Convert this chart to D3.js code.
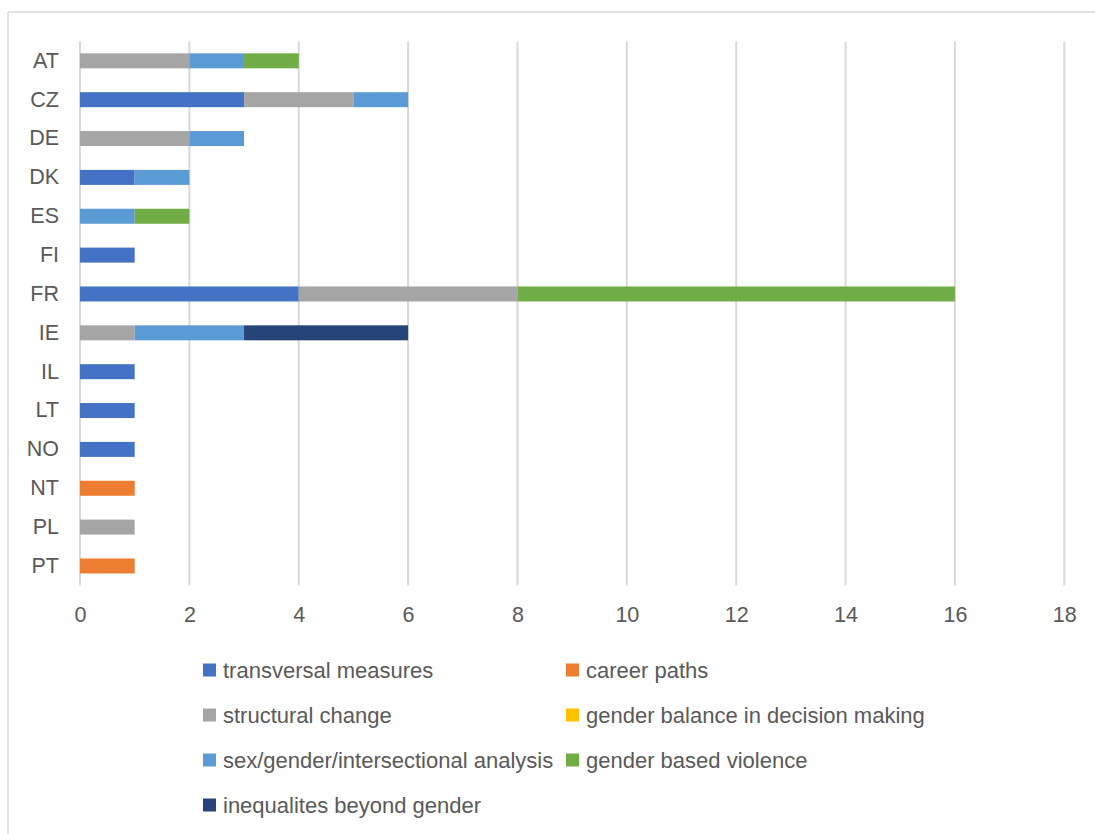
<!DOCTYPE html>
<html>
<head>
<meta charset="utf-8">
<script src="https://cdn.jsdelivr.net/npm/d3@7"></script>
<style>
  html, body { margin: 0; padding: 0; background: #fff; }
  svg { display: block; }
  text { font-family: "Liberation Sans", Arial, sans-serif; fill: #595959; }
</style>
</head>
<body>
<svg id="chart" width="1095" height="834"></svg>
<script>
const countries = ["AT","CZ","DE","DK","ES","FI","FR","IE","IL","LT","NO","NT","PL","PT"];
const seriesNames = [
  "transversal measures",
  "career paths",
  "structural change",
  "gender balance in decision making",
  "sex/gender/intersectional analysis",
  "gender based violence",
  "inequalites beyond gender"
];
const seriesColors = ["#4472C4","#ED7D31","#A5A5A5","#FFC000","#5B9BD5","#70AD47","#264478"];
//                          AT CZ DE DK ES FI FR IE IL LT NO NT PL PT
const transversal       = [0, 3, 0, 1, 0, 1, 4, 0, 1, 1, 1, 0, 0, 0];
const careerPaths       = [0, 0, 0, 0, 0, 0, 0, 0, 0, 0, 0, 1, 0, 1];
const structuralChange  = [2, 2, 2, 0, 0, 0, 4, 1, 0, 0, 0, 0, 1, 0];
const genderBalance     = [0, 0, 0, 0, 0, 0, 0, 0, 0, 0, 0, 0, 0, 0];
const sexGenderAnalysis = [1, 1, 1, 1, 1, 0, 0, 2, 0, 0, 0, 0, 0, 0];
const genderViolence    = [1, 0, 0, 0, 1, 0, 8, 0, 0, 0, 0, 0, 0, 0];
const inequalities      = [0, 0, 0, 0, 0, 0, 0, 3, 0, 0, 0, 0, 0, 0];
const xTicks = [0,2,4,6,8,10,12,14,16,18];

const seriesValues = [transversal, careerPaths, structuralChange, genderBalance,
                      sexGenderAnalysis, genderViolence, inequalities];

const rows = countries.map((c, i) => {
  const r = { country: c };
  seriesNames.forEach((s, k) => { r[s] = seriesValues[k][i]; });
  return r;
});

const svg = d3.select("#chart");

// outer chart border (top and left visible)
svg.append("line").attr("x1", 8).attr("y1", 12).attr("x2", 1095).attr("y2", 12)
  .attr("stroke", "#d9d9d9").attr("stroke-width", 1.5);
svg.append("line").attr("x1", 8).attr("y1", 12).attr("x2", 8).attr("y2", 834)
  .attr("stroke", "#d9d9d9").attr("stroke-width", 1.5);

const x = d3.scaleLinear().domain([0, 18]).range([80, 1064.3]);
const y = d3.scaleBand().domain(countries).range([41.4, 585.4])
  .paddingInner(0.614).paddingOuter(0.307);

// gridlines
svg.append("g").selectAll("line").data(xTicks).join("line")
  .attr("x1", d => x(d)).attr("x2", d => x(d))
  .attr("y1", 41.4).attr("y2", 585.4)
  .attr("stroke", "#d9d9d9").attr("stroke-width", 2);

// bars
const stack = d3.stack().keys(seriesNames);
const stacked = stack(rows);
svg.append("g").selectAll("g").data(stacked).join("g")
  .attr("fill", (d, i) => seriesColors[i])
  .selectAll("rect").data(d => d.filter(p => p[1] > p[0])).join("rect")
  .attr("x", d => x(d[0]))
  .attr("width", d => x(d[1]) - x(d[0]))
  .attr("y", d => y(d.data.country))
  .attr("height", y.bandwidth());

// x axis labels
const xAxis = d3.axisBottom(x).tickValues(xTicks).tickSize(0).tickPadding(0);
const gx = svg.append("g").attr("transform", "translate(0,607)").call(xAxis);
gx.select(".domain").remove();
gx.selectAll("text").attr("font-size", 21.5).attr("dy", "0.71em")
  .style("font-family", "'Liberation Sans', Arial, sans-serif").attr("fill", "#595959");

// y axis labels
const yAxis = d3.axisLeft(y).tickSize(0).tickPadding(0);
const gy = svg.append("g").attr("transform", "translate(59,0)").call(yAxis);
gy.select(".domain").remove();
gy.selectAll("text").attr("font-size", 21.5)
  .style("font-family", "'Liberation Sans', Arial, sans-serif").attr("fill", "#595959");

// legend
const legendCols = [203, 566];
const legendRows = [670, 715, 760, 805];
const lg = svg.append("g").selectAll("g").data(seriesNames).join("g")
  .attr("transform", (d, i) => `translate(${legendCols[i % 2]},${legendRows[Math.floor(i / 2)]})`);
lg.append("rect").attr("x", 0).attr("y", -6.5).attr("width", 13).attr("height", 13)
  .attr("fill", (d, i) => seriesColors[i]);
lg.append("text").attr("x", 20).attr("y", 0).attr("dy", "0.35em")
  .attr("font-size", 22).text(d => d);
</script>
</body>
</html>
